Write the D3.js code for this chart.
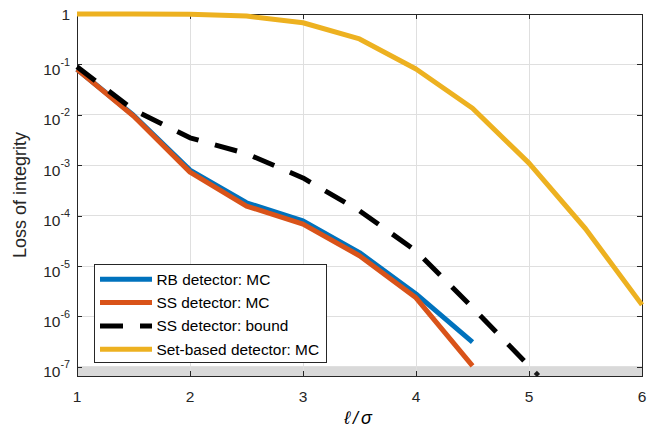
<!DOCTYPE html>
<html>
<head>
<meta charset="utf-8">
<script src="https://cdn.jsdelivr.net/npm/d3@7"></script>
<style>
  html, body { margin: 0; padding: 0; background: #ffffff; }
  svg { display: block; }
  text { font-family: "Liberation Sans", Arial, Helvetica, sans-serif; }
</style>
</head>
<body>
<svg id="chart" width="668" height="428"></svg>
<script>
// Threshold-to-noise ratio on the x axis
const xValues = [1, 1.5, 2, 2.5, 3, 3.5, 4, 4.5, 5, 5.5, 6];

// Loss-of-integrity probabilities per detector
const rbMC     = [0.080, 0.0098, 8.0e-4, 1.8e-4, 7.9e-5, 1.85e-5, 2.8e-6, 3.1e-7];
const ssMC     = [0.080, 0.0095, 7.3e-4, 1.55e-4, 6.8e-5, 1.6e-5, 2.35e-6, 1.05e-7];
const ssBound  = [0.090, 0.0125, 0.0035, 0.0017, 5.6e-4, 1.25e-4, 2.0e-5, 1.5e-6, 1.05e-7];
const setMC    = [1.0, 1.0, 0.99, 0.91, 0.67, 0.32, 0.081, 0.0135, 0.0011, 5.5e-5, 1.7e-6];

// Bound curve continuing past the lower axis limit
const boundTail = [{ x: 5.07, y: 7.25e-8 }];

// Axis limits and ticks
const xDomain = [1, 6];
const yDomain = [6.6e-8, 1];
const xTicks = [1, 2, 3, 4, 5, 6];
const yTicks = [1, 1e-1, 1e-2, 1e-3, 1e-4, 1e-5, 1e-6, 1e-7];
const yTickExponents = [0, -1, -2, -3, -4, -5, -6, -7];

// Region below the Monte Carlo resolution floor
const floorBand = [6.6e-8, 1e-7];

const seriesNames = ["RB detector: MC", "SS detector: MC", "SS detector: bound", "Set-based detector: MC"];
const seriesColors = ["#0072BD", "#D95319", "#000000", "#EDB120"];

const svg = d3.select("#chart");
const plot = { left: 77, right: 642, top: 14, bottom: 376 };

const x = d3.scaleLinear().domain(xDomain).range([plot.left, plot.right]);
const y = d3.scaleLog().domain(yDomain).range([plot.bottom, plot.top]);

const axisColor = "#262626";
const gridColor = "#dfdfdf";

// Floor band
svg.append("rect")
  .attr("x", x(xDomain[0]))
  .attr("y", y(floorBand[1]))
  .attr("width", x(xDomain[1]) - x(xDomain[0]))
  .attr("height", y(floorBand[0]) - y(floorBand[1]))
  .attr("fill", "#d9d9d9");

// Grid
const grid = svg.append("g").attr("shape-rendering", "crispEdges");
grid.selectAll(".gx").data(xTicks.slice(1, -1)).join("line")
  .attr("x1", d => x(d)).attr("x2", d => x(d))
  .attr("y1", plot.top).attr("y2", plot.bottom)
  .attr("stroke", gridColor).attr("stroke-width", 1);
grid.selectAll(".gy").data(yTicks.slice(1)).join("line")
  .attr("x1", plot.left).attr("x2", plot.right)
  .attr("y1", d => y(d)).attr("y2", d => y(d))
  .attr("stroke", gridColor).attr("stroke-width", 1);

// Axes: bottom/left with labels, top/right as inward ticks only
const tickLen = 5;
const axisBottom = d3.axisBottom(x).tickValues(xTicks).tickSize(-tickLen).tickSizeOuter(0).tickFormat("");
const axisTop = d3.axisTop(x).tickValues(xTicks).tickSize(-tickLen).tickSizeOuter(0).tickFormat("");
const axisLeft = d3.axisLeft(y).tickValues(yTicks).tickSize(-tickLen).tickSizeOuter(0).tickFormat("");
const axisRight = d3.axisRight(y).tickValues(yTicks).tickSize(-tickLen).tickSizeOuter(0).tickFormat("");

function styleAxis(g) {
  g.attr("shape-rendering", "crispEdges");
  g.selectAll("path").attr("stroke", axisColor).attr("stroke-width", 1);
  g.selectAll("line").attr("stroke", axisColor).attr("stroke-width", 1);
}
svg.append("g").attr("transform", `translate(0,${plot.bottom})`).call(axisBottom).call(styleAxis);
svg.append("g").attr("transform", `translate(0,${plot.top})`).call(axisTop).call(styleAxis);
svg.append("g").attr("transform", `translate(${plot.left},0)`).call(axisLeft).call(styleAxis);
svg.append("g").attr("transform", `translate(${plot.right},0)`).call(axisRight).call(styleAxis);

// X tick labels
svg.append("g").selectAll("text").data(xTicks).join("text")
  .attr("x", d => x(d))
  .attr("y", plot.bottom + 25.5)
  .attr("text-anchor", "middle")
  .attr("font-size", "15.5px")
  .attr("fill", axisColor)
  .text(d => d);

// Y tick labels as powers of ten
const yLab = svg.append("g").selectAll("text").data(yTicks).join("text")
  .attr("x", plot.left - 7)
  .attr("y", (d, i) => y(d) + (yTickExponents[i] === 0 ? 5.6 : 10.5))
  .attr("text-anchor", "end")
  .attr("font-size", "15.5px")
  .attr("fill", axisColor);
yLab.each(function (d, i) {
  const t = d3.select(this);
  const e = yTickExponents[i];
  if (e === 0) { t.text("1"); return; }
  t.append("tspan").text("10");
  t.append("tspan").attr("dy", -9).attr("font-size", "10.8px").text(String(e));
});

// Axis titles
svg.append("text")
  .attr("transform", `translate(26,${(plot.top + plot.bottom) / 2}) rotate(-90)`)
  .attr("text-anchor", "middle")
  .attr("font-size", "18px")
  .attr("fill", axisColor)
  .text("Loss of integrity");

svg.append("text")
  .attr("x", (plot.left + plot.right) / 2)
  .attr("y", plot.bottom + 48)
  .attr("text-anchor", "middle")
  .attr("font-family", "'DejaVu Serif', 'Liberation Serif', serif")
  .attr("font-style", "italic")
  .attr("font-size", "18px")
  .attr("letter-spacing", "3px")
  .attr("fill", "#000")
  .text("ℓ/σ");

// Curves
const line = d3.line().x(d => x(d.x)).y(d => y(d.y));
const toPoints = vals => vals.map((v, i) => ({ x: xValues[i], y: v }));

const curves = [
  { vals: rbMC, color: seriesColors[0], dash: null },
  { vals: ssMC, color: seriesColors[1], dash: null },
  { vals: ssBound, color: seriesColors[2], dash: "23,17" },
  { vals: setMC, color: seriesColors[3], dash: null }
];

svg.append("g").selectAll("path").data(curves).join("path")
  .attr("d", c => line(toPoints(c.vals)))
  .attr("fill", "none")
  .attr("stroke", c => c.color)
  .attr("stroke-width", 5)
  .attr("stroke-linejoin", "round")
  .attr("stroke-linecap", "butt")
  .attr("stroke-dasharray", c => c.dash);

svg.append("g").selectAll("path").data(boundTail).join("path")
  .attr("d", d3.symbol().type(d3.symbolSquare).size(20))
  .attr("transform", d => `translate(${x(d.x)},${y(d.y)}) rotate(45)`)
  .attr("fill", "#1a1a1a");

// Legend
const legend = svg.append("g");
const lg = { x: 94.5, y: 264.5, w: 232, h: 98 };
legend.append("rect")
  .attr("x", lg.x).attr("y", lg.y).attr("width", lg.w).attr("height", lg.h)
  .attr("fill", "#ffffff").attr("stroke", axisColor).attr("stroke-width", 1)
  .attr("shape-rendering", "crispEdges");

const rowY = i => lg.y + 14.8 + i * 23.3;
const entries = legend.selectAll("g").data(seriesNames).join("g");
entries.append("line")
  .attr("x1", 100).attr("x2", 152)
  .attr("y1", (d, i) => rowY(i)).attr("y2", (d, i) => rowY(i))
  .attr("stroke", (d, i) => seriesColors[i])
  .attr("stroke-width", 5)
  .attr("stroke-dasharray", (d, i) => i === 2 ? "23,17" : null);
entries.append("text")
  .attr("x", 156.5)
  .attr("y", (d, i) => rowY(i) + 5.4)
  .attr("font-size", "15.4px")
  .attr("fill", "#000")
  .text(d => d);
</script>
</body>
</html>
